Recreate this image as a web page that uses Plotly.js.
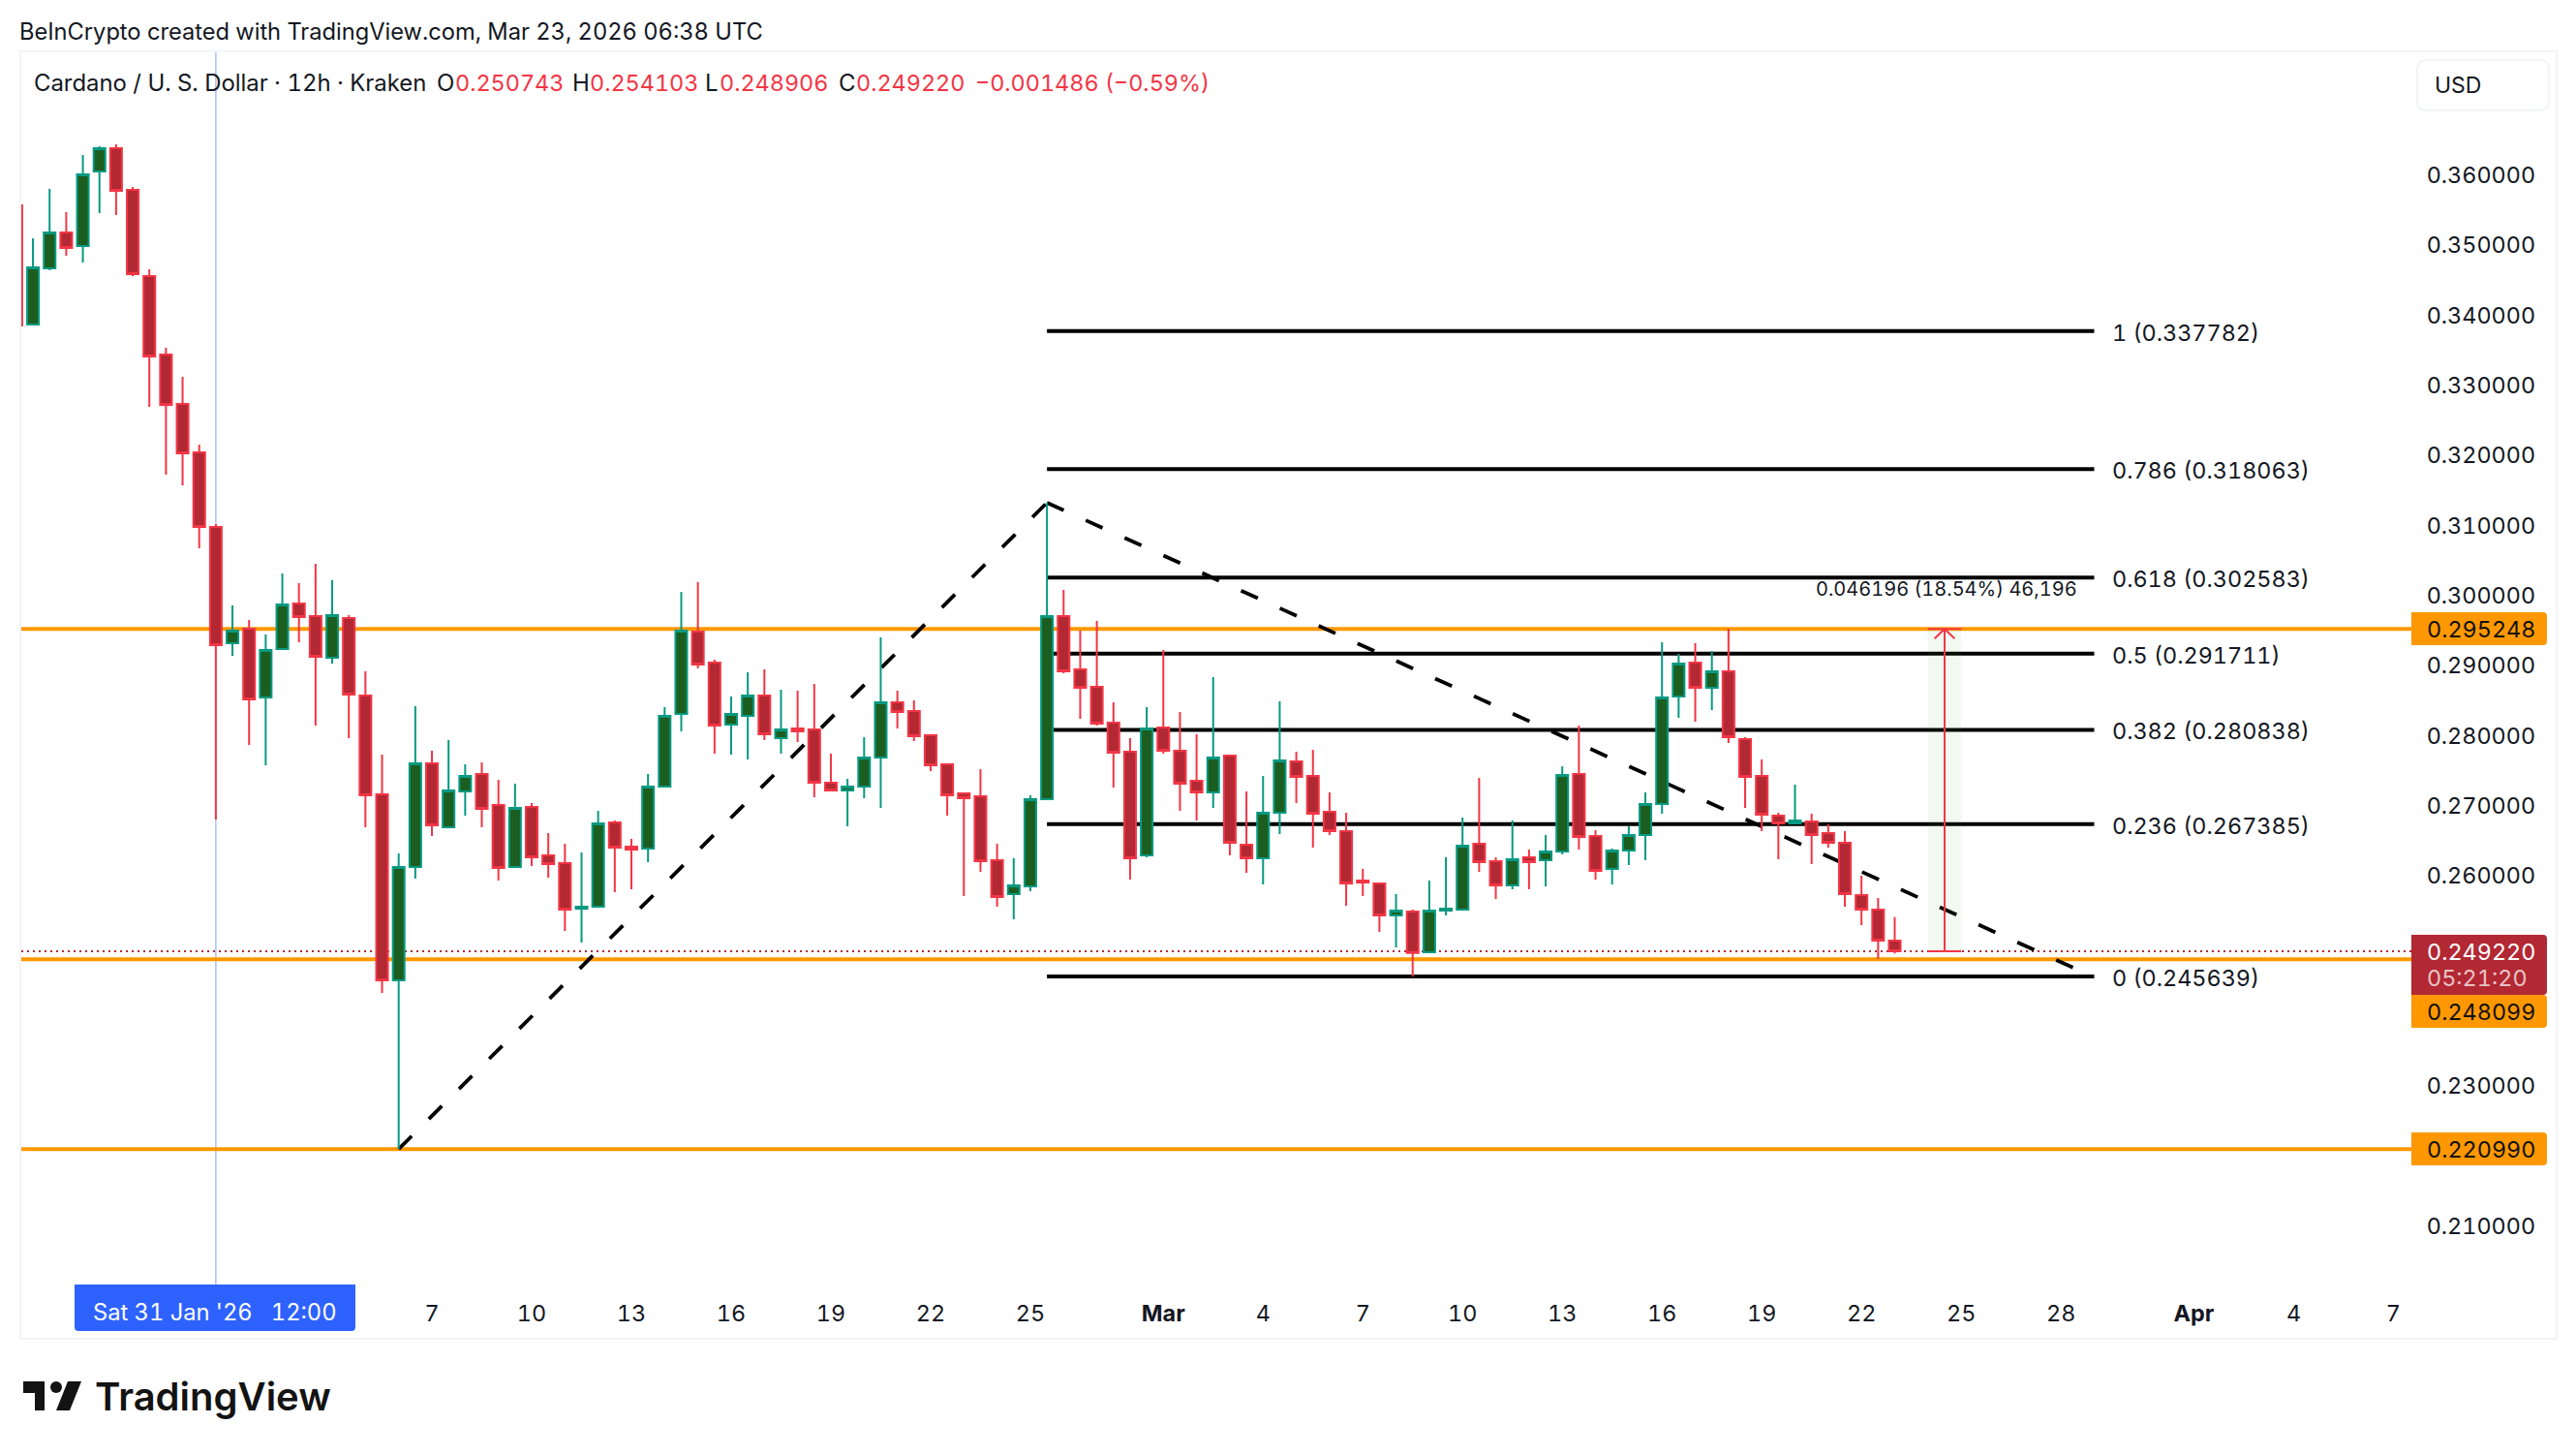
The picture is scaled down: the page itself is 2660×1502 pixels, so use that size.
<!DOCTYPE html>
<html><head><meta charset="utf-8">
<script src="https://cdn.plot.ly/plotly-3.0.1.min.js"></script>
<style>html,body{margin:0;padding:0;background:#fff}#chart{width:2660px;height:1502px}text{font-feature-settings:"tnum" 1;font-variant-numeric:tabular-nums}</style>
</head><body><div id="chart"></div>
<script>
const dates = ["2026-01-25 12:00","2026-01-26 00:00","2026-01-26 12:00","2026-01-27 00:00","2026-01-27 12:00","2026-01-28 00:00","2026-01-28 12:00","2026-01-29 00:00","2026-01-29 12:00","2026-01-30 00:00",
"2026-01-30 12:00","2026-01-31 00:00","2026-01-31 12:00","2026-02-01 00:00","2026-02-01 12:00","2026-02-02 00:00","2026-02-02 12:00","2026-02-03 00:00","2026-02-03 12:00","2026-02-04 00:00",
"2026-02-04 12:00","2026-02-05 00:00","2026-02-05 12:00","2026-02-06 00:00","2026-02-06 12:00","2026-02-07 00:00","2026-02-07 12:00","2026-02-08 00:00","2026-02-08 12:00","2026-02-09 00:00",
"2026-02-09 12:00","2026-02-10 00:00","2026-02-10 12:00","2026-02-11 00:00","2026-02-11 12:00","2026-02-12 00:00","2026-02-12 12:00","2026-02-13 00:00","2026-02-13 12:00","2026-02-14 00:00",
"2026-02-14 12:00","2026-02-15 00:00","2026-02-15 12:00","2026-02-16 00:00","2026-02-16 12:00","2026-02-17 00:00","2026-02-17 12:00","2026-02-18 00:00","2026-02-18 12:00","2026-02-19 00:00",
"2026-02-19 12:00","2026-02-20 00:00","2026-02-20 12:00","2026-02-21 00:00","2026-02-21 12:00","2026-02-22 00:00","2026-02-22 12:00","2026-02-23 00:00","2026-02-23 12:00","2026-02-24 00:00",
"2026-02-24 12:00","2026-02-25 00:00","2026-02-25 12:00","2026-02-26 00:00","2026-02-26 12:00","2026-02-27 00:00","2026-02-27 12:00","2026-02-28 00:00","2026-02-28 12:00","2026-03-01 00:00",
"2026-03-01 12:00","2026-03-02 00:00","2026-03-02 12:00","2026-03-03 00:00","2026-03-03 12:00","2026-03-04 00:00","2026-03-04 12:00","2026-03-05 00:00","2026-03-05 12:00","2026-03-06 00:00",
"2026-03-06 12:00","2026-03-07 00:00","2026-03-07 12:00","2026-03-08 00:00","2026-03-08 12:00","2026-03-09 00:00","2026-03-09 12:00","2026-03-10 00:00","2026-03-10 12:00","2026-03-11 00:00",
"2026-03-11 12:00","2026-03-12 00:00","2026-03-12 12:00","2026-03-13 00:00","2026-03-13 12:00","2026-03-14 00:00","2026-03-14 12:00","2026-03-15 00:00","2026-03-15 12:00","2026-03-16 00:00",
"2026-03-16 12:00","2026-03-17 00:00","2026-03-17 12:00","2026-03-18 00:00","2026-03-18 12:00","2026-03-19 00:00","2026-03-19 12:00","2026-03-20 00:00","2026-03-20 12:00","2026-03-21 00:00",
"2026-03-21 12:00","2026-03-22 00:00","2026-03-22 12:00","2026-03-23 00:00"];
const opens = [.35571,.33870,.34672,.35184,.34990,.36055,.36387,.35793,.34561,.33441,
.32736,.32045,.30980,.29320,.29528,.28546,.29238,.29888,.29708,.29113,
.29680,.28574,.27163,.24508,.26126,.27606,.26693,.27205,.27454,.27011,
.26126,.26984,.26292,.26182,.25532,.25559,.26763,.26417,.26389,.27274,
.28311,.29487,.29044,.28159,.28284,.28574,.27966,.28104,.28090,.27329,
.27219,.27274,.27689,.28477,.28353,.28007,.27592,.27177,.27136,.26223,
.25739,.25850,.27094,.29708,.28948,.28699,.28187,.27772,.26292,.28118,
.27786,.27357,.27191,.27717,.26444,.26251,.26901,.27634,.27426,.26915,
.26638,.25933,.25891,.25435,.25490,.24910,.25504,.25518,.26458,.26209,
.25863,.26265,.26223,.26348,.27454,.26569,.26098,.26362,.26582,.27025,
.28560,.29044,.28685,.28920,.27952,.27426,.26859,.26749,.26776,.26610,
.26472,.25725,.25518,.250743];
const highs = [.35571,.35101,.35806,.35474,.36290,.36415,.36442,.35834,.34658,.33538,
.33123,.32155,.31021,.29860,.29653,.29445,.30316,.30178,.30454,.30220,
.29722,.28920,.27731,.26320,.28422,.27786,.27938,.27592,.27620,.27371,
.27316,.27039,.26610,.26458,.26334,.26929,.26790,.26527,.27454,.28408,
.30054,.30192,.29085,.28560,.28906,.28948,.28657,.28643,.28740,.27744,
.27385,.27980,.29404,.28643,.28505,.28007,.27592,.27191,.27523,.26458,
.26251,.27150,.31326,.30082,.29501,.29639,.28477,.27966,.28408,.29224,
.28339,.28021,.28837,.27717,.27205,.27426,.28491,.27772,.27800,.27191,
.26901,.26098,.25891,.25739,.25518,.25933,.26265,.26832,.27399,.26265,
.26790,.26375,.26582,.27564,.28145,.26652,.26389,.26707,.27191,.29335,
.29169,.29320,.29210,.29528,.27980,.27661,.26901,.27302,.26887,.26735,
.26638,.26002,.25684,.254103];
const lows = [.33856,.33870,.34645,.34852,.34755,.35460,.35433,.34561,.32694,.31726,
.31574,.30675,.26804,.29141,.27869,.27578,.29238,.29335,.28145,.29030,
.27966,.26693,.24328,.22099,.25960,.26569,.26693,.26859,.26693,.25933,
.26126,.26140,.25974,.25214,.25048,.25559,.25766,.25807,.26196,.27274,
.28062,.28961,.27744,.27731,.27661,.27938,.27744,.27910,.27122,.27205,
.26707,.27108,.26970,.28104,.27924,.27495,.26859,.25710,.26057,.25559,
.25380,.25780,.27094,.28892,.28242,.28145,.27260,.25947,.26265,.27744,
.26929,.26790,.26970,.26292,.26043,.25877,.26596,.27039,.26403,.26582,
.25573,.25710,.25200,.24979,.24564,.24897,.25435,.25504,.26057,.25670,
.25807,.25807,.25850,.26306,.26375,.25947,.25877,.26154,.26223,.26887,
.28256,.28200,.28367,.27897,.26970,.26638,.26237,.26735,.26168,.26403,
.25559,.25297,.24812,.248906];
const closes = [.33856,.34686,.35184,.34963,.36014,.36387,.35779,.34589,.33414,.32722,
.32031,.30980,.29293,.29501,.28519,.29224,.29874,.29694,.29127,.29722,
.28588,.27150,.24508,.26126,.27606,.26721,.27219,.27426,.26956,.26112,
.26970,.26265,.26168,.25518,.25559,.26749,.26403,.26375,.27274,.28284,
.29501,.29017,.28145,.28311,.28574,.28021,.28090,.28062,.27329,.27219,
.27274,.27689,.28477,.28339,.27994,.27578,.27150,.27108,.26209,.25697,
.25863,.27094,.29708,.28920,.28685,.28173,.27758,.26251,.28104,.27786,
.27316,.27191,.27689,.26472,.26251,.26901,.27648,.27412,.26887,.26638,
.25891,.25905,.25435,.25504,.24897,.25504,.25532,.26431,.26196,.25863,
.26237,.26196,.26348,.27440,.26555,.26071,.26362,.26582,.27025,.28546,
.29030,.28685,.28920,.27980,.27412,.26873,.26749,.26790,.26582,.26472,
.25739,.25518,.25075,.249220];

const priceTicks = [.36,.35,.34,.33,.32,.31,.30,.29,.28,.27,.26,.23,.21];
const timeTickVals = ["2026-02-07","2026-02-10","2026-02-13","2026-02-16","2026-02-19","2026-02-22","2026-02-25","2026-03-01","2026-03-04","2026-03-07","2026-03-10","2026-03-13","2026-03-16","2026-03-19","2026-03-22","2026-03-25","2026-03-28","2026-04-01","2026-04-04","2026-04-07"];
const timeTickText = ["7","10","13","16","19","22","25","<b>Mar</b>","4","7","10","13","16","19","22","25","28","<b>Apr</b>","4","7"];

const fibRatios = ["1","0.786","0.618","0.5","0.382","0.236","0"];
const fibPrices = [0.337782,0.318063,0.302583,0.291711,0.280838,0.267385,0.245639];
const fibStart = "2026-02-25 12:00", fibEnd = "2026-03-29 00:00", fibLabelAt = "2026-03-29 10:00";
const hLevels = [0.295248,0.248099,0.220990];
const lastPrice = 0.249220;
const crosshairTime = "2026-01-31 12:00";
const trendUp = {x:["2026-02-06 00:00","2026-02-25 12:00"], y:[0.22099,0.31326]};
const trendDown = {x:["2026-02-25 12:00","2026-03-28 09:00"], y:[0.31326,0.24688]};
const rangeTool = {x0:"2026-03-24 00:00",xm:"2026-03-24 12:00",x1:"2026-03-25 00:00",top:0.295248,bottom:0.249220,
  headL:"2026-03-24 04:44",headR:"2026-03-24 19:16",headY:0.29387};

const PL=22,PR=2490,PT=54,PB=1330;
const fx=x=>(x-PL)/(PR-PL), fy=y=>(PB-y)/(PB-PT);
const DARK="#131722", FONT="Inter", NUM=23.4;
const ORANGE="#ff9800", RED="#f23645", DRED="#b22833", GREEN="#089981", DGREEN="#1b5e20";

function rr(x0,y0,x1,y1,rTL,rTR,rBR,rBL){
  const p=(x,y)=>fx(x)+","+fy(y);
  return "M"+p(x0+rTL,y0)+" L"+p(x1-rTR,y0)+" Q"+p(x1,y0)+" "+p(x1,y0+rTR)+" L"+p(x1,y1-rBR)+" Q"+p(x1,y1)+" "+p(x1-rBR,y1)+" L"+p(x0+rBL,y1)+" Q"+p(x0,y1)+" "+p(x0,y1-rBL)+" L"+p(x0,y0+rTL)+" Q"+p(x0,y0)+" "+p(x0+rTL,y0)+" Z";
}
function box(x0,y0,x1,y1,color,r,line){
  return {type:"path",xref:"paper",yref:"paper",layer:"above",path:rr(x0,y0,x1,y1,r[0],r[1],r[2],r[3]),fillcolor:color,line:{width:line?2:0,color:line||color}};
}
function txt(x,y,text,o){o=o||{};
  return {xref:"paper",yref:"paper",x:fx(x-(o.anchor?0:2)),y:fy(y),text:text,showarrow:false,xanchor:o.anchor||"left",yanchor:"middle",borderpad:0,
    font:{family:FONT,size:o.size||NUM,color:o.color||DARK,weight:o.weight||400}};
}
const shapes=[];
const frame="#f3f4f6";
shapes.push({type:"rect",xref:"paper",yref:"paper",x0:fx(21),x1:fx(2640),y0:fy(53),y1:fy(1382),line:{color:frame,width:2},layer:"below"});
shapes.push({type:"line",xref:"x",yref:"paper",x0:crosshairTime,x1:crosshairTime,y0:0,y1:1,line:{color:"#a9c1f7",width:1.5},layer:"below"});
fibPrices.forEach(p=>shapes.push({type:"line",xref:"x",yref:"y",x0:fibStart,x1:fibEnd,y0:p,y1:p,line:{color:"#000",width:4},layer:"below"}));
hLevels.forEach(p=>shapes.push({type:"line",xref:"paper",yref:"y",x0:0,x1:1,y0:p,y1:p,line:{color:ORANGE,width:4},layer:"below"}));
shapes.push({type:"line",xref:"paper",yref:"y",x0:0,x1:1,y0:lastPrice,y1:lastPrice,line:{color:DRED,width:2,dash:"2px,4px"},layer:"below"});
[trendUp,trendDown].forEach(t=>shapes.push({type:"line",xref:"x",yref:"y",x0:t.x[0],x1:t.x[1],y0:t.y[0],y1:t.y[1],line:{color:"#000",width:3.8,dash:"19px,25px"},layer:"below"}));
shapes.push({type:"rect",xref:"x",yref:"y",x0:rangeTool.x0,x1:rangeTool.x1,y0:rangeTool.bottom,y1:rangeTool.top,fillcolor:"rgba(76,175,80,0.08)",line:{width:0},layer:"above"});
shapes.push({type:"line",xref:"x",yref:"y",x0:rangeTool.xm,x1:rangeTool.xm,y0:rangeTool.bottom,y1:rangeTool.top,line:{color:RED,width:2},layer:"above"});
shapes.push({type:"line",xref:"x",yref:"y",x0:rangeTool.x0,x1:rangeTool.x1,y0:rangeTool.bottom,y1:rangeTool.bottom,line:{color:RED,width:2},layer:"above"});
shapes.push({type:"line",xref:"x",yref:"y",x0:rangeTool.x0,x1:rangeTool.x1,y0:rangeTool.top,y1:rangeTool.top,line:{color:RED,width:2},layer:"above"});
shapes.push({type:"line",xref:"x",yref:"y",x0:rangeTool.headL,x1:rangeTool.xm,y0:rangeTool.headY,y1:rangeTool.top,line:{color:RED,width:2},layer:"above"});
shapes.push({type:"line",xref:"x",yref:"y",x0:rangeTool.xm,x1:rangeTool.headR,y0:rangeTool.top,y1:rangeTool.headY,line:{color:RED,width:2},layer:"above"});
shapes.push(box(2490,632,2630,666,ORANGE,[0,4,4,0]));
shapes.push(box(2490,965,2630,1027,DRED,[0,4,4,0]));
shapes.push(box(2490,1027,2630,1061,ORANGE,[0,4,4,0]));
shapes.push(box(2490,1169,2630,1203,ORANGE,[0,4,4,0]));
shapes.push(box(77,1326,367,1374,"#2e62ff",[0,0,4,4]));
shapes.push(box(2496,62,2632,114,"#ffffff",[10,10,10,10],"#f3f4f6"));
const P=(x,y)=>fx(x)+","+fy(y);
shapes.push({type:"path",xref:"paper",yref:"paper",fillcolor:"#131313",line:{width:0},path:"M"+P(24,1426)+" L"+P(46,1426)+" L"+P(46,1456)+" L"+P(36,1456)+" L"+P(36,1438)+" L"+P(24,1438)+" Z"});
shapes.push({type:"path",xref:"paper",yref:"paper",fillcolor:"#131313",line:{width:0},path:"M"+P(70,1426)+" L"+P(84,1426)+" L"+P(72,1456)+" L"+P(58,1456)+" Z"});
shapes.push({type:"circle",xref:"paper",yref:"paper",fillcolor:"#131313",line:{width:0},x0:fx(52),x1:fx(64),y0:fy(1426),y1:fy(1438)});

const annotations=[
  txt(21,32,"BeInCrypto created with TradingView.com, Mar 23, 2026 06:38 UTC",{size:23.65}),
  txt(36,85,"Cardano / U. S. Dollar · 12h · Kraken",{size:23.9}),
  txt(452,85,"O",{size:24}),txt(471,85,"0.250743",{color:RED}),
  txt(592,85,"H",{size:24}),txt(610,85,"0.254103",{color:RED}),
  txt(729,85,"L",{size:24}),txt(744,85,"0.248906",{color:RED}),
  txt(867,85,"C",{size:24}),txt(885,85,"0.249220",{color:RED}),
  txt(1008,85,"−0.001486 (−0.59%)",{color:RED}),
  txt(2515,88,"USD",{size:23}),
  txt(2507,649,"0.295248",{color:"#111"}),
  txt(2507,982,"0.249220",{color:"#fff"}),
  txt(2507,1009,"05:21:20",{color:"rgba(255,255,255,0.72)"}),
  txt(2507,1044,"0.248099",{color:"#111"}),
  txt(2507,1186,"0.220990",{color:"#111"}),
  txt(222,1354,"Sat 31 Jan '26 &nbsp;&nbsp;12:00",{color:"#fff",anchor:"center",size:23.7}),
  txt(1876,608,"0.046196 (18.54%) 46,196",{size:20}),
  txt(99,1441,"TradingView",{size:40,weight:600,color:"#131313"})
];
fibPrices.forEach((p,i)=>annotations.push({xref:"x",yref:"y",x:fibLabelAt,y:p,xshift:3,yshift:-1.5,text:fibRatios[i]+" ("+p.toFixed(6)+")",showarrow:false,xanchor:"left",yanchor:"middle",borderpad:0,font:{family:FONT,size:NUM,color:DARK}}));

const trace={type:"candlestick",x:dates,open:opens,high:highs,low:lows,close:closes,
  increasing:{line:{color:GREEN,width:2},fillcolor:DGREEN},
  decreasing:{line:{color:RED,width:2},fillcolor:DRED},
  whiskerwidth:0,hoverinfo:"skip",showlegend:false};

const layout={width:2660,height:1502,paper_bgcolor:"#fff",plot_bgcolor:"#fff",showlegend:false,
  margin:{l:PL,r:2660-PR,t:PT,b:1502-PB,pad:0},
  font:{family:FONT,size:24,color:DARK},
  xaxis:{type:"date",range:["2026-01-25 15:34","2026-04-07 12:58"],tickmode:"array",tickvals:timeTickVals,ticktext:timeTickText,
    showgrid:false,zeroline:false,showline:false,ticks:"outside",ticklen:5,tickcolor:"rgba(0,0,0,0)",tickangle:0,
    rangeslider:{visible:false},tickfont:{family:FONT,size:NUM,color:DARK}},
  yaxis:{side:"right",range:[0.2011,0.37756],tickmode:"array",tickvals:priceTicks,ticktext:priceTicks.map(v=>v.toFixed(6)),
    showgrid:false,zeroline:false,showline:false,ticks:"outside",ticklen:10,tickcolor:"rgba(0,0,0,0)",tickfont:{family:FONT,size:NUM,color:DARK}},
  boxgap:0.3,boxgroupgap:0,shapes:shapes,annotations:annotations};
Plotly.newPlot("chart",[trace],layout,{staticPlot:true,displayModeBar:false});
</script></body></html>
